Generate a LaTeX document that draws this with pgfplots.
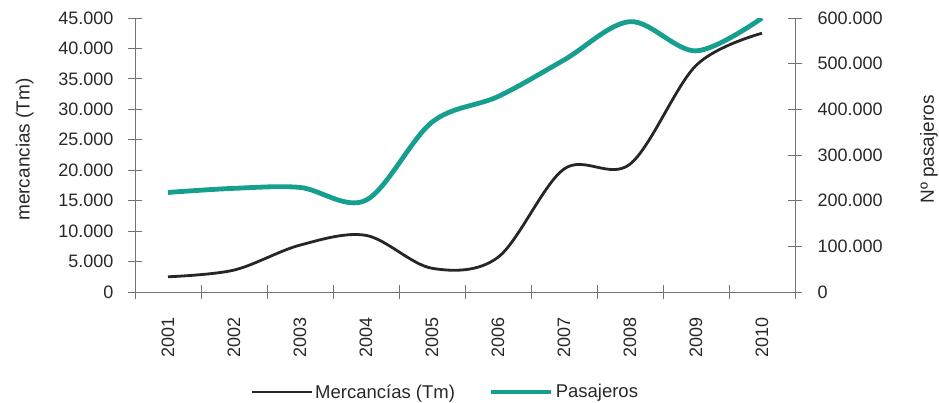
\documentclass[border=0pt]{standalone}
\usepackage{pgfplots}
\pgfplotsset{compat=1.18}
\usepackage{fontspec}
\setmainfont{Liberation Sans}
\definecolor{teal1}{RGB}{22,158,142}
\definecolor{axgray}{RGB}{115,115,115}
\definecolor{txt}{RGB}{40,40,40}
\begin{document}
\begin{tikzpicture}
\useasboundingbox (-135pt,-110pt) rectangle (804pt,292pt);
\pgfplotsset{
  common/.style={
    scale only axis, width=660pt, height=274pt,
    at={(0,0)}, anchor=south west,
    xmin=-0.5, xmax=9.5,
    /pgf/number format/.cd, fixed, precision=0, 1000 sep={.}, assume math mode=true, /pgfplots/.cd,
    tick align=center,
    major tick length=14pt,
    tick style={axgray, line width=0.8pt},
    axis line style={axgray, line width=0.8pt},
    ticklabel style={font=\fontsize{18}{20}\selectfont, text=txt},
  }
}
\begin{axis}[common,
  axis x line*=bottom, axis y line*=left,
  ymin=0, ymax=45000, ytick={0,5000,...,45000},
  scaled y ticks=false,
  xtick={0,...,9},
  xticklabels={2001,2002,2003,2004,2005,2006,2007,2008,2009,2010},
  x tick label style={rotate=90, anchor=east},
  major x tick style={draw=none},
  minor xtick={-0.5,0.5,...,9.5},
  minor tick length=14pt,
  minor x tick style={axgray, line width=0.8pt},
  xticklabel shift=15pt,
  yticklabel shift=11pt,
  ylabel={mercancias (Tm)},
  every axis y label/.style={at={(rel axis cs:-0.167,0.52)}, rotate=90, anchor=center,
    font=\fontsize{19}{22}\selectfont, text=txt},
]
\addplot[black!85, line width=2.8pt, smooth, tension=0.55] coordinates {
(0,2500) (1,3600) (2,7700) (3,9300) (4,3900) (5,5700) (6,20200) (7,21000) (8,37200) (9,42500)
};
\end{axis}
\begin{axis}[common,
  axis x line=none, axis y line*=right,
  ymin=0, ymax=600000, ytick={0,100000,...,600000},
  scaled y ticks=false,
  yticklabel shift=12pt,
  ylabel={Nº pasajeros},
  every axis y label/.style={at={(rel axis cs:1.203,0.52)}, rotate=90, anchor=center,
    font=\fontsize{19}{22}\selectfont, text=txt},
  legend style={at={(0.47,-0.365)}, anchor=center, draw=none, fill=none,
    legend columns=2, font=\fontsize{18.5}{21}\selectfont, text=txt,
    /tikz/every even column/.append style={column sep=32pt}},
  legend cell align=left,
  legend image code/.code={\draw[#1] (0pt,0pt) -- (60pt,0pt);},
]
\addlegendimage{black!85, line width=2.8pt}
\addlegendentry{Mercancías (Tm)}
\addplot[teal1, line width=4.8pt, smooth, tension=0.55] coordinates {
(0,218000) (1,227000) (2,229000) (3,201000) (4,372000) (5,428000) (6,508000) (7,592000) (8,528000) (9,600000)
};
\addlegendentry{Pasajeros}
\end{axis}
\end{tikzpicture}
\end{document}
